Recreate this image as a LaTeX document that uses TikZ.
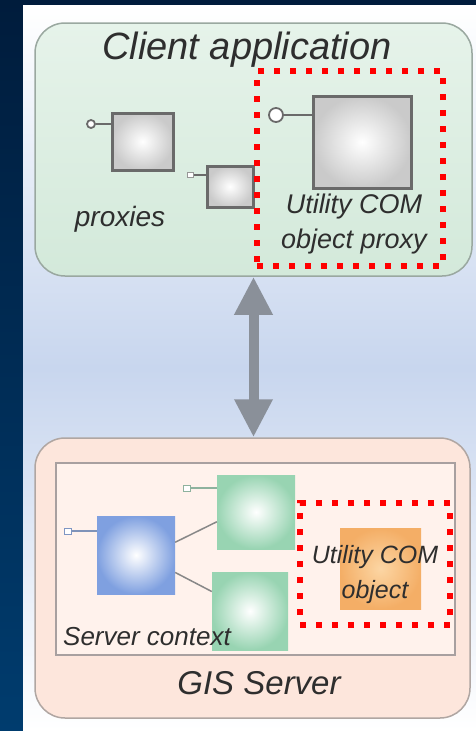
\documentclass[tikz,border=0pt]{standalone}
\usepackage{fontspec}
\setmainfont{Liberation Sans}
\usetikzlibrary{arrows.meta,calc}

\definecolor{navytop}{HTML}{001C3C}
\definecolor{navybot}{HTML}{003C6E}
\definecolor{skyband}{HTML}{C8D6EE}
\definecolor{clientfill}{HTML}{D3E9DA}
\definecolor{clienttop}{HTML}{E6F3EA}
\definecolor{clientedge}{HTML}{9AA8A0}
\definecolor{serverfill}{HTML}{FDE6DC}
\definecolor{serveredge}{HTML}{B0A6A2}
\definecolor{contextfill}{HTML}{FFF2EC}
\definecolor{contextedge}{HTML}{A8A0A0}
\definecolor{boxedge}{HTML}{6A6A6A}
\definecolor{boxouter}{HTML}{CACACA}
\definecolor{greenouter}{HTML}{98D4B2}
\definecolor{blueouter}{HTML}{7FA0E0}
\definecolor{orangeouter}{HTML}{F4AE66}
\definecolor{orangeinner}{HTML}{FCD6A4}
\definecolor{arrowgray}{HTML}{8A9099}
\definecolor{labelgray}{HTML}{2E2E2E}
\definecolor{hilite}{HTML}{FF0000}

\tikzset{
  x=1pt, y=-1pt,
  container/.style={rounded corners=30pt, line width=1.5pt, inner sep=0pt},
  greybox/.style={draw=boxedge, line width=3pt, inner color=white, outer color=boxouter, inner sep=0pt},
  softbox/.style={inner sep=0pt, inner color=white},
  pin/.style={draw=boxedge, line width=2.5pt},
  knobround/.style={circle, draw=boxedge, line width=1.8pt, fill=white, inner sep=0pt},
  knobsquare/.style={rectangle, draw=boxedge!70, line width=1pt, fill=white, inner sep=0pt},
  wire/.style={draw=boxedge!80, line width=1.5pt},
  hiliteframe/.style={draw=hilite, line width=6pt, dash pattern=on 6pt off 10pt},
  label/.style={text=labelgray, font=\itshape, inner sep=0pt}
}

\begin{document}
\begin{tikzpicture}
\useasboundingbox (0,0) rectangle (476,731);

% dark frame and light panel
\shade[top color=navytop, bottom color=navybot] (0,0) rectangle (476,731);
\shade[top color=white, bottom color=skyband] (23,5) rectangle (476,368);
\shade[top color=skyband, bottom color=white] (23,368) rectangle (476,731);

% client application
\node[container, draw=clientedge, top color=clienttop, bottom color=clientfill,
      minimum width=437pt, minimum height=253pt] (client) at (253.5,149.5) {};
\node[label, font=\itshape\fontsize{38}{40}\selectfont] (clienttitle) at (247,50) {Client application};

\node[greybox, minimum width=61pt, minimum height=57pt] (proxyA) at (142.5,141.5) {};
\node[greybox, minimum width=46pt, minimum height=41pt] (proxyB) at (230,186.5) {};
\node[greybox, minimum width=98pt, minimum height=92pt] (utilproxy) at (362,142) {};

\node[knobround, minimum size=8pt] (knobA) at (91,124) {};
\draw[pin] (knobA) -- (proxyA.west |- knobA);
\node[knobsquare, minimum width=6pt, minimum height=5pt] (knobB) at (190,175) {};
\draw[pin] (knobB) -- (proxyB.west |- knobB);
\node[knobround, minimum size=14pt] (knobU) at (276,115) {};
\draw[pin] (knobU) -- (utilproxy.west |- knobU);

\node[label, font=\itshape\fontsize{28}{30}\selectfont] (proxies) at (120,219) {proxies};
\node[label, align=center, font=\itshape\fontsize{27}{35}\selectfont] (proxytext) at (354,224.5) {Utility COM\\object proxy};

\node[hiliteframe, minimum width=186pt, minimum height=195pt] (frameA) at (350,168.5) {};

% GIS server
\node[container, draw=serveredge, fill=serverfill,
      minimum width=435pt, minimum height=280pt] (gis) at (252.5,578) {};
\node[draw=contextedge, line width=1.5pt, fill=contextfill, inner sep=0pt,
      minimum width=399pt, minimum height=192pt] (context) at (255.5,559) {};

\node[softbox, outer color=greenouter, minimum width=78pt, minimum height=74pt] (greenA) at (256,512) {};
\node[softbox, outer color=greenouter, minimum width=76pt, minimum height=78pt] (greenB) at (250,611) {};
\node[softbox, outer color=blueouter, minimum width=78pt, minimum height=78pt] (blue) at (136,555) {};
\node[softbox, inner color=orangeinner, outer color=orangeouter, minimum width=81pt, minimum height=81pt] (utilobj) at (380.5,568.5) {};

\draw[wire] (blue.18) -- (greenA.194);
\draw[wire] (blue.-24) -- (greenB.153);

\node[knobsquare, draw=blueouter!70!gray, minimum width=7pt, minimum height=6pt] (knobBlue) at (68,531) {};
\draw[wire, draw=blueouter!60!gray] (knobBlue) -- (blue.west |- knobBlue);
\node[knobsquare, draw=greenouter!60!gray, minimum width=7pt, minimum height=6pt] (knobGreen) at (187,488) {};
\draw[wire, draw=greenouter!60!gray] (knobGreen) -- (greenA.west |- knobGreen);

\node[label, align=center, font=\itshape\fontsize{25}{35}\selectfont] (objtext) at (375,574.5) {Utility COM\\object};
\node[label, anchor=west, font=\itshape\fontsize{26}{28}\selectfont] (contexttext) at (63,637) {Server context};
\node[label, font=\itshape\fontsize{33}{35}\selectfont] (gistext) at (259,683) {GIS Server};

\node[hiliteframe, minimum width=150pt, minimum height=122pt] (frameB) at (375,564) {};

% link between client and server
\draw[arrowgray, line width=10pt,
      {Triangle[width=36pt,length=38pt]}-{Triangle[width=36pt,length=38pt]}]
  (client.south) -- (client.south |- gis.north);
\end{tikzpicture}
\end{document}
